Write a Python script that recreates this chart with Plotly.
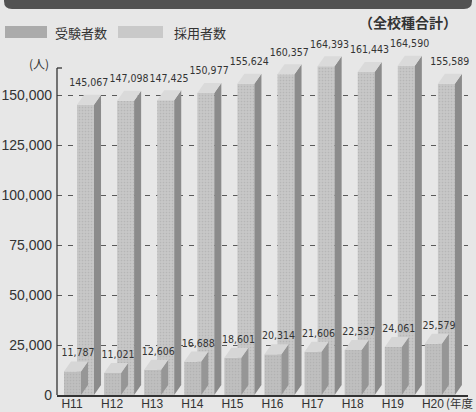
import plotly.graph_objects as go

# 年度別 受験者数・採用者数（全校種合計）
years = ["H11", "H12", "H13", "H14", "H15", "H16", "H17", "H18", "H19", "H20"]
applicants = [145067, 147098, 147425, 150977, 155624, 160357, 164393, 161443, 164590, 155589]
hired = [11787, 11021, 12606, 16688, 18601, 20314, 21606, 22537, 24061, 25579]
y_ticks = [0, 25000, 50000, 75000, 100000, 125000, 150000]

# pseudo-3D geometry (data units)
BAR_W = 0.424          # front face width (category units)
DX = 0.175             # depth shift to the right
DY = 5000              # depth shift upward
OFF_BACK = 0.125       # back row (applicants) left edge relative to category
OFF_FRONT = -0.2       # front row (hired) left edge relative to category

BG = "#e7e7e7"
INK = "#333333"
NUM_FONT = "DejaVu Sans Condensed, Liberation Sans, sans-serif"
JP_FONT = "Noto Sans CJK JP, Noto Sans, sans-serif"

xs = list(range(len(years)))


def faces(values, off):
    """Polygons for the right side and top face of each bar."""
    sx, sy, tx, ty = [], [], [], []
    for i, v in zip(xs, values):
        xl = i + off
        xr = xl + BAR_W
        sx += [xr, xr, xr + DX, xr + DX, xr, None]
        sy += [0, v, v + DY, DY, 0, None]
        tx += [xl, xr, xr + DX, xl + DX, xl, None]
        ty += [v, v, v + DY, v + DY, v, None]
    return sx, sy, tx, ty


fig = go.Figure()

rows = [
    (applicants, OFF_BACK, "#c7c7c7", "#8b8b8b", "#dadada"),
    (hired, OFF_FRONT, "#bfbfbf", "#969696", "#d6d6d6"),
]
for vals, off, c_front, c_side, c_top in rows:
    fig.add_trace(go.Bar(
        x=xs, y=vals, width=BAR_W, offset=off,
        marker=dict(color=c_front, line=dict(width=0),
                    pattern=dict(shape=".", fgcolor="#a6a6a6", size=3, solidity=0.25)),
        showlegend=False, hoverinfo="skip",
    ))
    sx, sy, tx, ty = faces(vals, off)
    fig.add_trace(go.Scatter(x=sx, y=sy, mode="lines", fill="toself",
                             fillcolor=c_side, line=dict(width=0),
                             showlegend=False, hoverinfo="skip"))
    fig.add_trace(go.Scatter(x=tx, y=ty, mode="lines", fill="toself",
                             fillcolor=c_top, line=dict(width=0),
                             showlegend=False, hoverinfo="skip"))

# value labels
fig.add_trace(go.Scatter(
    x=[i + 0.42 for i in xs], y=[v + 8000 for v in applicants],
    mode="text", text=[f"{v:,}" for v in applicants], textposition="top center",
    textfont=dict(family=NUM_FONT, size=10.5, color=INK),
    showlegend=False, hoverinfo="skip", cliponaxis=False,
))
fig.add_trace(go.Scatter(
    x=[i + 0.15 for i in xs], y=[v + 6200 for v in hired],
    mode="text", text=[f"{v:,}" for v in hired], textposition="top center",
    textfont=dict(family=NUM_FONT, size=10.5, color=INK),
    showlegend=False, hoverinfo="skip", cliponaxis=False,
))

L, R, T, B = 57, 8, 40, 17
W, H = 476, 412
pw, ph = W - L - R, H - T - B


def px(x):
    return (x - L) / pw


def py(y):
    return (H - B - y) / ph


shapes = []
# dark header band with rounded lower corners
x0, x1, y0, y1, r = 4, 472, -12, 9, 8
shapes.append(dict(
    type="path", xref="paper", yref="paper",
    path=(f"M{px(x0)},{py(y0)} L{px(x1)},{py(y0)} L{px(x1)},{py(y1 - r)} "
          f"Q{px(x1)},{py(y1)} {px(x1 - r)},{py(y1)} L{px(x0 + r)},{py(y1)} "
          f"Q{px(x0)},{py(y1)} {px(x0)},{py(y1 - r)} Z"),
    fillcolor="#525252", line=dict(width=0), layer="above",
))
# legend swatches
shapes.append(dict(type="rect", xref="paper", yref="paper",
                   x0=px(5), x1=px(47), y0=py(38), y1=py(26),
                   fillcolor="#ababab", line=dict(width=0)))
shapes.append(dict(type="rect", xref="paper", yref="paper",
                   x0=px(118), x1=px(163), y0=py(38), y1=py(26),
                   fillcolor="#c9c9c9", line=dict(width=0)))
# vertical axis with the small cap at its top
shapes.append(dict(type="line", xref="paper", yref="y", x0=0, x1=0,
                   y0=0, y1=163500, line=dict(color=INK, width=1.3), layer="above"))
shapes.append(dict(type="line", xref="paper", yref="y", x0=0, x1=px(62),
                   y0=163500, y1=163500, line=dict(color=INK, width=1.3), layer="above"))

annotations = [
    dict(text="受験者数", x=px(53), y=py(32), xanchor="left", yanchor="middle"),
    dict(text="採用者数", x=px(172), y=py(32), xanchor="left", yanchor="middle"),
    dict(text="<b>（全校種合計）</b>", x=px(459), y=py(22), xanchor="right", yanchor="middle",
         font=dict(family=JP_FONT, size=14, color=INK)),
    dict(text="(人)", x=px(51), y=py(63), xanchor="right", yanchor="middle",
         font=dict(family=JP_FONT, size=12, color=INK)),
    dict(text="(年度", x=px(444), y=py(403), xanchor="left", yanchor="middle",
         font=dict(family=JP_FONT, size=11.5, color=INK)),
]
for a in annotations:
    a.update(xref="paper", yref="paper", showarrow=False)
    a.setdefault("font", dict(family=JP_FONT, size=13, color=INK))

fig.update_layout(
    width=W, height=H,
    margin=dict(l=L, r=R, t=T, b=B),
    paper_bgcolor=BG, plot_bgcolor=BG,
    barmode="overlay",
    shapes=shapes, annotations=annotations,
    xaxis=dict(
        range=[-(72 - L) / 40.1, (W - R - 72) / 40.1],
        tickvals=xs, ticktext=years, showgrid=False, zeroline=False,
        showline=True, linecolor=INK, linewidth=1.5, ticks="", automargin=False,
        ticklabelstandoff=-3,
        tickfont=dict(family="Liberation Sans, Arial, sans-serif", size=12, color=INK),
    ),
    yaxis=dict(
        range=[0, (H - B - T) * 500], tickvals=y_ticks,
        ticktext=[f"{v:,}" for v in y_ticks],
        showgrid=True, gridcolor="#5a5a5a", gridwidth=1, griddash="5px,6px",
        zeroline=False, showline=False, ticks="", ticklabelstandoff=4, automargin=False,
        tickfont=dict(family="Liberation Sans, Arial, sans-serif", size=14, color=INK),
    ),
)

fig.write_html("out.html")
